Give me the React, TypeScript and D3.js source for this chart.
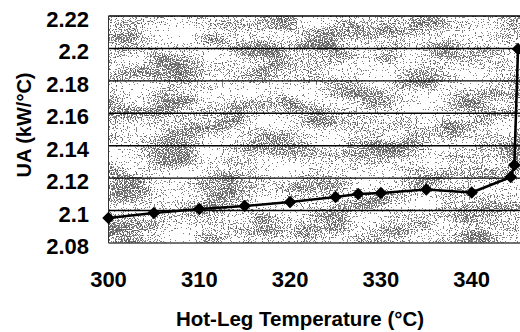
import React from "react";
import * as d3 from "d3";

const temps = [300, 305, 310, 315, 320, 325, 327.5, 330, 335, 340, 344.3, 344.7, 345.1];
const uaValues = [2.0954, 2.0985, 2.101, 2.1028, 2.1053, 2.1084, 2.1102, 2.1108, 2.113, 2.1111, 2.1207, 2.1281, 2.1996];
const yTicks = [2.08, 2.1, 2.12, 2.14, 2.16, 2.18, 2.2, 2.22];
const xTicks = [300, 310, 320, 330, 340];
const xTitle = "Hot-Leg Temperature (°C)";
const yTitle = "UA (kW/°C)";

const W = 520;
const H = 332;
const FONT = "Arial, 'Liberation Sans', Helvetica, sans-serif";

export default function App() {
  const x = d3.scaleLinear().domain([300, 340]).range([108.5, 471.7]);
  const y = d3.scaleLinear().domain([2.08, 2.22]).range([243, 16]);
  const pts = temps.map((t, i) => [t, uaValues[i]] as [number, number]);
  const line = d3
    .line<[number, number]>()
    .x((d) => x(d[0]))
    .y((d) => y(d[1]))
    .curve(d3.curveLinear);
  const sym = d3.symbol(d3.symbolDiamond2, 100)();
  const left = x(300);
  const right = x(350);
  const top = y(2.22);
  const bottom = y(2.08);

  return (
    <svg
      width={W}
      height={H}
      style={{ position: "absolute", left: 0, top: 0, background: "#fff" }}
    >
      <defs>
        <filter id="speck" x="0" y="0" width="1" height="1" colorInterpolationFilters="sRGB">
          <feTurbulence type="fractalNoise" baseFrequency="0.85" numOctaves={1} seed={4} result="hi" />
          <feColorMatrix in="hi" type="matrix" values="1 0 0 0 0  1 0 0 0 0  1 0 0 0 0  0 0 0 0 1" result="hiG" />
          <feTurbulence type="fractalNoise" baseFrequency="0.02 0.05" numOctaves={2} seed={9} result="lo" />
          <feColorMatrix in="lo" type="matrix" values="1 0 0 0 0  1 0 0 0 0  1 0 0 0 0  0 0 0 0 1" result="loG" />
          <feComposite in="hiG" in2="loG" operator="arithmetic" k1={0} k2={1} k3={0.5} k4={-0.12} result="sum" />
          <feColorMatrix in="sum" type="matrix" values="0 0 0 0 0  0 0 0 0 0  0 0 0 0 0  1 0 0 0 0" result="a" />
          <feComponentTransfer in="a">
            <feFuncA type="discrete" tableValues="0 0 0 0 0 0 0 0.7 0.9 0.9" />
          </feComponentTransfer>
        </filter>
      </defs>

      <rect x={left} y={top} width={W - left} height={bottom - top} fill="#fff" />
      <rect
        x={left}
        y={top}
        width={W - left}
        height={bottom - top}
        fill="#000"
        filter="url(#speck)"
        opacity={0.7}
      />

      {yTicks.map((t) => (
        <line
          key={"g" + t}
          x1={left}
          x2={right}
          y1={y(t)}
          y2={y(t)}
          stroke={t === 2.08 ? "#444" : "#000"}
          strokeWidth={1.4}
        />
      ))}
      <line x1={left} x2={left} y1={top} y2={bottom} stroke="#333" strokeWidth={1} />

      {yTicks.map((t) => (
        <text
          key={"yl" + t}
          x={89}
          y={y(t) + 11}
          textAnchor="end"
          fontFamily={FONT}
          fontWeight="bold"
          fontSize={22}
          fill="#000"
        >
          {d3.format("~g")(t)}
        </text>
      ))}

      {xTicks.map((t) => (
        <text
          key={"xl" + t}
          x={x(t)}
          y={287}
          textAnchor="middle"
          fontFamily={FONT}
          fontWeight="bold"
          fontSize={22}
          fill="#000"
        >
          {t}
        </text>
      ))}

      <path d={line(pts) || ""} fill="none" stroke="#000" strokeWidth={2.6} strokeLinejoin="round" />
      {pts.map((p, i) => (
        <path key={"m" + i} d={sym || ""} transform={`translate(${x(p[0])},${y(p[1])})`} fill="#000" />
      ))}

      <text
        x={300}
        y={326}
        textAnchor="middle"
        fontFamily={FONT}
        fontWeight="bold"
        fontSize={20.5}
        fill="#000"
      >
        {xTitle}
      </text>
      <text
        transform={`translate(31,125) rotate(-90)`}
        textAnchor="middle"
        fontFamily={FONT}
        fontWeight="bold"
        fontSize={20}
        fill="#000"
      >
        {yTitle}
      </text>
    </svg>
  );
}
